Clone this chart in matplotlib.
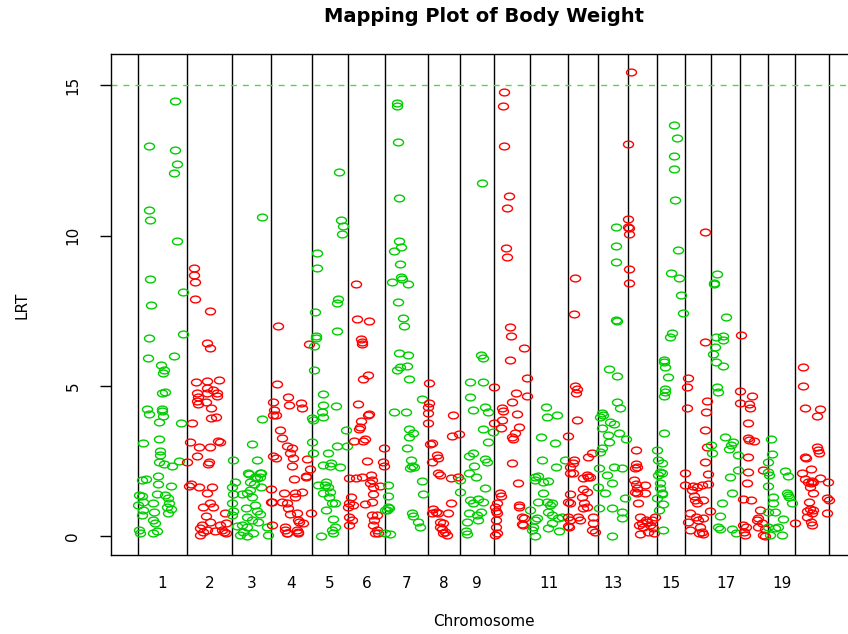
import numpy as np
import matplotlib
matplotlib.use("Agg")
import matplotlib.pyplot as plt
from matplotlib.path import Path
from matplotlib.transforms import Affine2D

# chromosome lengths (cM) and which labels R managed to print
chr_len = [98, 90, 78, 82, 72, 74, 85, 65, 68, 72, 75, 61, 60, 58, 56, 52, 58, 56, 54, 68]
shown_labels = [1, 2, 3, 4, 5, 6, 7, 8, 9, 11, 13, 15, 17, 19]

# (position within chromosome, LRT)
c1 = [(74,14.47),(22,12.98),(74,12.84),(78,12.38),(72,12.08),(22,10.85),(24,10.52),(78,9.82),(24,8.56),(90,8.13),
      (26,7.69),(22,6.59),(90,6.72),(20,5.93),(72,6.0),(46,5.7),(52,5.54),(50,5.44),(48,4.77),(54,4.8),(18,4.24),
      (22,4.08),(48,4.24),(48,4.17),(50,4.0),(42,3.8),(86,3.77),(10,3.11),(42,3.25),(44,2.85),(44,2.71),(42,2.48),
      (52,2.42),(68,2.35),(82,2.52),(8,1.88),(16,1.92),(40,2.01),(40,1.75),(66,1.68),(2,1.39),(8,1.33),(0,1.05),
      (30,1.12),(38,1.42),(54,1.39),(60,1.28),(62,1.12),(58,0.98),(66,0.92),(60,0.79),(10,1.15),(10,0.89),(8,0.72),
      (32,0.82),(30,0.55),(34,0.45),(38,0.19),(30,0.12),(2,0.22),(4,0.12)]
c2 = [(14,8.92),(14,8.69),(16,8.45),(16,7.89),(46,7.5),(40,6.43),(46,6.27),(18,5.14),(40,5.17),(64,5.2),(20,4.77),
      (22,4.64),(20,4.51),(22,4.41),(40,4.94),(40,4.77),(52,4.87),(60,4.77),(60,4.67),(38,4.47),(48,4.27),(48,3.94),
      (58,3.97),(10,3.77),(62,3.18),(66,3.15),(6,3.15),(24,2.98),(20,2.68),(46,2.98),(42,2.41),(44,2.48),(0,2.48),
      (4,1.68),(8,1.75),(24,1.65),(40,1.45),(50,1.65),(32,0.98),(46,1.12),(52,0.98),(76,0.79),(38,0.69),(30,0.39),
      (46,0.49),(66,0.39),(78,0.45),(26,0.29),(32,0.16),(26,0.06),(40,0.22),(56,0.19),(74,0.16),(70,0.22),(78,0.12)]
c3 = [(60,10.61),(60,3.91),(2,2.55),(40,3.08),(50,2.55),(58,2.11),(56,1.98),(34,2.08),(50,1.95),(58,1.65),(0,1.65),
      (6,1.82),(2,1.42),(20,1.42),(30,1.45),(36,1.55),(40,1.32),(0,1.12),(2,0.85),(0,0.72),(28,0.95),(46,1.05),
      (50,0.85),(56,0.75),(10,0.35),(20,0.39),(30,0.32),(22,0.16),(16,0.06),(30,0.0),(42,0.12),(70,0.32),(72,0.06),
      (30,0.65),(40,0.55),(52,0.49),(32,2.11),(46,1.98),(56,2.11),(36,1.82),(44,1.75)]
c4 = [(14,7.0),(76,6.4),(12,5.07),(4,4.47),(6,4.21),(10,4.04),(4,4.04),(34,4.64),(36,4.38),(60,4.44),(62,4.27),
      (18,3.52),(22,3.28),(32,3.01),(42,2.94),(38,2.78),(44,2.61),(4,2.68),(10,2.61),(72,2.58),(78,2.25),(70,1.98),
      (46,1.92),(0,1.58),(26,1.45),(48,1.45),(62,1.49),(0,1.15),(2,1.15),(22,1.15),(32,1.12),(48,1.32),(38,0.75),
      (52,0.79),(54,0.55),(56,0.49),(2,0.39),(28,0.22),(32,0.12),(54,0.16),(80,0.79),(28,0.32),(32,0.12),(52,0.22),
      (54,0.12),(64,0.45),(42,2.35),(70,2.0),(34,0.95)]
c5 = [(54,12.1),(58,10.52),(62,10.32),(60,10.05),(10,9.42),(10,8.92),(52,7.89),(50,7.76),(6,7.46),(50,6.83),
      (8,6.66),(8,6.6),(4,6.34),(4,5.54),(22,4.74),(22,4.38),(48,4.34),(20,4.14),(22,3.97),(2,3.87),(0,3.94),
      (68,3.52),(0,3.15),(2,2.78),(32,2.78),(50,3.01),(70,3.01),(22,2.38),(36,2.35),(38,2.45),(56,2.32),(12,1.72),
      (28,1.82),(26,1.72),(32,1.65),(36,1.49),(22,1.45),(34,1.32),(40,1.12),(46,1.12),(28,0.89),(42,0.59),(18,0.02),
      (40,0.22),(42,0.12),(46,0.32)]
c6 = [(16,8.39),(18,7.23),(42,7.16),(26,6.57),(28,6.47),(28,6.4),(30,5.24),(40,5.37),(20,4.41),(40,4.04),(42,4.08),
      (26,3.84),(22,3.57),(24,3.64),(12,3.18),(30,3.18),(34,3.25),(38,2.51),(72,2.95),(70,2.48),(72,2.35),(2,1.95),
      (16,1.95),(28,1.98),(46,2.05),(48,1.88),(44,1.78),(50,1.65),(50,1.42),(64,1.68),(6,1.32),(2,1.12),(0,0.98),
      (10,1.05),(34,1.08),(48,1.15),(2,0.65),(8,0.55),(2,0.39),(48,0.72),(52,0.55),(58,0.72),(50,0.39),(58,0.22),
      (60,0.12),(54,0.12)]
c7 = [(24,14.4),(24,14.32),(26,13.11),(28,11.25),(28,9.82),(32,9.62),(18,9.48),(30,9.05),(32,8.62),(34,8.55),
      (14,8.45),(46,8.39),(26,7.8),(36,7.26),(38,7.0),(28,6.1),(46,6.04),(44,5.67),(30,5.64),(24,5.54),(48,5.24),
      (18,4.14),(42,4.14),(48,3.57),(56,3.44),(48,3.31),(44,2.95),(52,2.55),(54,2.35),(58,2.32),(50,2.28),(74,4.57),
      (74,1.85),(76,1.42),(54,0.79),(56,0.69),(66,0.49),(70,0.32),(6,1.72),(6,1.35),(6,0.98),(8,0.95),(4,0.89),
      (10,0.09),(0,0.12),(0,0.89)]
c8 = [(3,5.1),(3,4.44),(1,4.31),(1,4.11),(1,3.77),(51,4.04),(49,3.34),(63,3.41),(5,3.08),(9,3.11),(19,2.71),
      (21,2.61),(9,2.48),(21,2.11),(25,2.05),(47,1.95),(61,1.98),(47,1.12),(11,0.92),(17,0.82),(21,0.79),(9,0.79),
      (25,0.49),(31,0.45),(25,0.32),(29,0.25),(35,0.16),(39,0.06),(31,0.12),(41,0.79)]
c9 = [(44,11.74),(42,6.04),(46,5.94),(20,5.14),(46,5.14),(20,4.64),(26,4.21),(50,4.31),(56,4.14),(46,3.57),
      (66,3.48),(56,3.15),(18,2.68),(26,2.78),(28,2.35),(18,2.11),(32,1.98),(50,2.58),(54,2.48),(0,1.88),(0,1.49),
      (50,1.62),(20,1.22),(26,1.12),(36,1.25),(46,1.15),(14,0.49),(18,0.79),(34,0.72),(36,0.55),(42,0.82),(12,0.19),
      (14,0.09)]
c10 = [(20,14.77),(18,14.31),(20,12.98),(30,11.31),(26,10.91),(24,9.58),(26,9.28),(32,6.97),(34,6.66),(60,6.26),
       (32,5.87),(66,5.27),(0,4.97),(66,4.67),(44,4.77),(36,4.47),(16,4.27),(18,4.17),(46,4.07),(50,3.64),(0,3.77),
       (16,3.87),(14,3.61),(36,3.31),(38,3.25),(42,3.44),(36,2.45),(48,1.78),(12,1.45),(14,1.35),(6,1.12),(4,0.85),
       (4,0.55),(4,0.32),(2,0.06),(6,0.12),(50,1.05),(50,0.98),(56,0.65),(60,0.62),(58,0.39),(56,0.42),(2,0.98),
       (6,0.79)]
c11 = [(32,4.31),(34,3.97),(54,4.04),(22,3.31),(50,3.11),(24,2.55),(52,2.32),(70,2.55),(10,1.98),(16,2.01),
       (26,1.82),(36,1.85),(10,1.88),(26,1.45),(16,1.15),(34,1.15),(44,1.12),(40,1.05),(0,0.89),(14,0.62),(10,0.55),
       (6,0.32),(4,0.22),(10,0.0),(36,0.82),(44,0.72),(44,0.45),(36,0.29),(56,0.62),(64,0.65),(58,0.19)]
c12 = [(15,8.59),(13,7.39),(15,5.0),(19,4.9),(17,4.77),(19,3.87),(1,3.34),(13,2.55),(11,2.45),(5,2.32),(11,2.11),
       (5,2.11),(41,2.65),(49,2.78),(41,1.98),(45,1.98),(31,1.95),(39,2.05),(31,1.58),(39,1.49),(29,1.32),(5,1.42),
       (1,1.15),(5,1.12),(33,1.12),(39,0.98),(31,0.95),(0,0.65),(5,0.55),(21,0.65),(25,0.55),(51,0.65),(51,0.45),
       (49,0.22),(55,0.16),(1,0.35),(3,0.32)]
c13 = [(36,10.28),(36,9.66),(36,9.12),(36,7.19),(38,7.16),(22,5.57),(38,5.34),(38,4.47),(44,4.27),(8,4.11),
       (10,4.04),(4,3.97),(24,3.8),(32,3.74),(8,3.61),(42,3.44),(56,3.25),(20,3.37),(22,3.15),(8,2.95),(4,2.81),
       (32,2.32),(48,2.28),(2,2.28),(18,2.05),(28,1.78),(0,1.65),(14,1.45),(2,0.95),(28,0.95),(48,0.82),(48,0.62),
       (54,1.28),(28,0.02)]
c14 = [(6,15.43),(0,13.04),(0,10.55),(0,10.28),(2,10.25),(2,10.05),(2,8.89),(2,8.42),(16,2.88),(16,2.41),(18,2.32),
       (14,2.28),(12,1.88),(16,1.75),(18,1.62),(14,1.49),(18,1.45),(34,1.72),(34,1.45),(20,1.12),(24,0.65),(36,0.55),
       (38,0.49),(44,0.39),(28,0.45),(22,0.39),(24,0.09),(50,0.29),(52,0.12),(40,0.16),(30,0.32),(54,0.65),(48,0.55)]
c15 = [(34,13.67),(40,13.24),(34,12.64),(34,12.21),(36,11.18),(42,9.52),(28,8.75),(44,8.59),(48,8.02),(52,7.42),
       (30,6.76),(26,6.64),(14,5.87),(14,5.8),(16,5.64),(22,5.3),(16,4.9),(16,4.8),(14,4.67),(14,3.44),(0,2.88),
       (2,2.55),(10,2.45),(6,2.15),(10,2.11),(2,2.05),(6,1.78),(10,1.45),(0,1.28),(12,1.08),(4,0.89),(12,0.22),
       (6,1.6),(10,1.4)]
c16 = [(40,10.12),(40,6.47),(6,5.27),(4,4.97),(44,4.51),(42,4.14),(4,4.27),(40,3.54),(44,2.98),(40,2.48),(0,2.11),
       (46,2.08),(0,1.72),(16,1.68),(24,1.65),(34,1.72),(46,1.75),(14,1.55),(18,1.35),(20,1.22),(24,1.12),(36,1.22),
       (10,0.79),(50,0.85),(22,0.65),(26,0.55),(36,0.62),(6,0.49),(10,0.22),(30,0.32),(34,0.16),(28,0.12),(36,0.09)]
c17 = [(12,8.72),(6,8.42),(6,8.39),(30,7.29),(24,6.66),(10,6.64),(24,6.54),(8,6.3),(4,6.07),(10,5.8),(24,5.67),
       (12,4.97),(14,4.8),(28,3.31),(40,3.04),(44,3.15),(36,2.91),(54,2.71),(0,3.04),(2,2.78),(54,2.21),(38,1.98),
       (42,1.45),(22,1.12),(18,0.69),(14,0.32),(18,0.25),(42,0.25),(50,0.12)]
c18 = [(2,6.69),(0,4.84),(0,4.44),(24,4.67),(18,4.41),(20,4.27),(16,3.77),(16,3.28),(18,3.22),(28,3.18),(16,2.65),
       (16,2.15),(46,2.21),(14,1.78),(6,1.25),(22,1.22),(40,0.89),(36,0.62),(34,0.55),(44,0.45),(6,0.39),(12,0.32),
       (8,0.16),(10,0.06),(36,0.32),(50,0.25),(50,0.0),(46,0.06)]
c19 = [(6,3.24),(8,2.74),(0,2.48),(0,2.15),(2,2.05),(0,1.68),(34,2.18),(40,2.01),(38,1.45),(40,1.38),(42,1.32),
       (48,1.12),(10,1.32),(10,1.12),(0,0.82),(14,0.82),(30,0.59),(20,0.32),(14,0.29),(28,0.06),(4,0.06),(0,0.32)]
c20 = [(16,5.64),(16,5.0),(20,4.27),(50,4.24),(44,4.01),(44,2.98),(46,2.88),(48,2.78),(20,2.65),(22,2.61),(14,2.11),
       (32,2.25),(20,1.92),(26,1.82),(34,1.85),(36,1.82),(32,1.78),(50,1.95),(66,1.82),(30,1.65),(36,1.45),(64,1.28),
       (68,1.22),(28,1.15),(24,0.85),(30,0.92),(36,0.89),(34,0.79),(24,0.65),(64,0.79),(0,0.45),(32,0.49),(34,0.39)]

chroms = [c1, c2, c3, c4, c5, c6, c7, c8, c9, c10, c11, c12, c13, c14, c15, c16, c17, c18, c19, c20]
threshold = 15

plt.rcParams['font.family'] = ['DejaVu Sans']

fig = plt.figure(figsize=(8.48, 6.34), dpi=100)
# plot region in pixels: x 111..857, y 53.6..555
ax = fig.add_axes([111 / 848, (634 - 555) / 634, 746 / 848, (555 - 53.6) / 634])

starts = np.concatenate([[0], np.cumsum(chr_len)])
# R circles got stretched sideways, so use an ellipse marker
ellipse = Path.unit_circle().transformed(Affine2D().scale(1, 0.68))

for i, pts in enumerate(chroms):
    pos = np.array([p[0] for p in pts]) + starts[i]
    lrt = np.array([p[1] for p in pts])
    col = '#00cd00' if i % 2 == 0 else '#ff0000'
    ax.plot(pos, lrt, linestyle='none', marker=ellipse, markersize=7.2,
            markerfacecolor='none', markeredgecolor=col, markeredgewidth=1.0)

for b in starts:
    ax.axvline(b, color='black', lw=1.0, zorder=1)

ax.axhline(threshold, color='#4fd84f', lw=1.0, ls=(0, (4.3, 4.3)))

ax.set_xlim(-54, starts[-1] + 56)
ax.set_ylim(-0.62, 16.05)

centers = starts[:-1] + np.array(chr_len) / 2
ax.set_xticks([centers[c - 1] for c in shown_labels])
ax.set_xticklabels([str(c) for c in shown_labels], fontsize=11)
ax.tick_params(axis='x', length=0, pad=15)

ax.set_yticks([0, 5, 10, 15])
ax.set_yticklabels(['0', '5', '10', '15'], rotation=90, va='center', fontsize=11)
ax.tick_params(axis='y', length=8, width=1, pad=14)

ax.spines['right'].set_visible(False)
for s in ['left', 'top', 'bottom']:
    ax.spines[s].set_linewidth(1.0)

ax.set_xlabel('Chromosome', fontsize=11)
ax.xaxis.label.set_va('center')
ax.xaxis.set_label_coords(0.5, (555 - 622) / 501.4)
ax.set_ylabel('LRT', fontsize=11)
ax.yaxis.label.set_va('center')
ax.yaxis.set_label_coords((22 - 111) / 746, (555 - 305) / 501.4)

title = ax.set_title('Mapping Plot of Body Weight', fontsize=14, fontweight='bold',
                     y=(555 - 16) / 501.4, pad=0)
title.set_va('center')

fig.savefig('out.png', dpi=100)
